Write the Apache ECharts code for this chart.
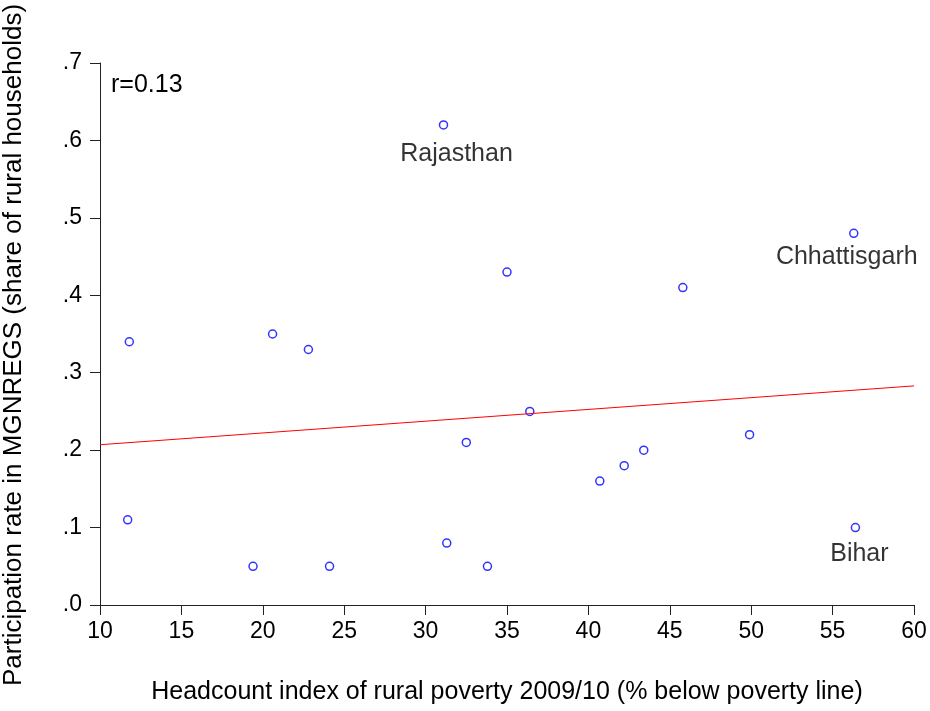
<!DOCTYPE html>
<html>
<head>
<meta charset="utf-8">
<script src="https://cdn.jsdelivr.net/npm/echarts@6/dist/echarts.min.js"></script>
<style>
  html, body { margin: 0; padding: 0; background: #fff; }
  #chart { width: 930px; height: 711px; }
</style>
</head>
<body>
<div id="chart"></div>
<script>
// headcount index (x) and MGNREGS participation (y), one entry per state
var poverty = [11.8, 11.7, 19.4, 20.6, 22.8, 24.1, 31.1, 31.3, 32.5, 33.8, 35.0, 36.4, 40.7, 42.2, 43.4, 45.8, 49.9, 56.3, 56.4];
var participation = [0.34, 0.11, 0.05, 0.35, 0.33, 0.05, 0.62, 0.08, 0.21, 0.05, 0.43, 0.25, 0.16, 0.18, 0.20, 0.41, 0.22, 0.48, 0.10];
var names = ['', '', '', '', '', '', 'Rajasthan', '', '', '', '', '', '', '', '', '', '', 'Chhattisgarh', 'Bihar'];
// fitted line end points
var fitX = [10, 60];
var fitY = [0.207, 0.283];

var labelOffset = {
  'Rajasthan': [13, 29],
  'Chhattisgarh': [-7, 24],
  'Bihar': [4, 27]
};

var font = 'Liberation Sans, Arial, sans-serif';

var points = poverty.map(function (x, i) {
  var item = { value: [x, participation[i]] };
  if (names[i]) {
    item.label = {
      show: true,
      formatter: names[i],
      position: 'inside',
      offset: labelOffset[names[i]],
      color: '#000',
      fontSize: 25,
      fontFamily: font
    };
  }
  return item;
});

var chart = echarts.init(document.getElementById('chart'));
chart.setOption({
  backgroundColor: '#fff',
  animation: false,
  grid: { left: 100, right: 16, top: 63, bottom: 106, outerBoundsMode: 'none', containLabel: false },
  xAxis: {
    type: 'value',
    min: 10, max: 60, interval: 5,
    name: 'Headcount index of rural poverty 2009/10 (% below poverty line)',
    nameLocation: 'middle',
    nameGap: 75,
    nameTextStyle: { color: '#000', fontSize: 25, fontFamily: font },
    axisLine: { show: true, lineStyle: { color: '#222', width: 1 } },
    axisTick: { show: true, length: 10, lineStyle: { color: '#222' } },
    axisLabel: { color: '#000', fontSize: 23, fontFamily: font, margin: 15 },
    splitLine: { show: false }
  },
  yAxis: {
    type: 'value',
    min: 0, max: 0.7, interval: 0.1,
    name: 'Participation rate in MGNREGS (share of rural households)',
    nameLocation: 'middle',
    nameGap: 73,
    nameTextStyle: { color: '#000', fontSize: 26, fontFamily: font, padding: [0, 22, 0, 0] },
    axisLine: { show: true, lineStyle: { color: '#222', width: 1 } },
    axisTick: { show: true, length: 10, lineStyle: { color: '#222' } },
    axisLabel: {
      color: '#000', fontSize: 23, fontFamily: font, margin: 18,
      formatter: function (v) { return v.toFixed(1).replace(/^0/, ''); }
    },
    splitLine: { show: false }
  },
  graphic: [{
    type: 'text',
    left: 111, top: 73,
    style: { text: 'r=0.13', fill: '#000', fontSize: 25, fontFamily: font }
  }],
  series: [{
    type: 'line',
    data: fitX.map(function (x, i) { return [x, fitY[i]]; }),
    showSymbol: false,
    lineStyle: { color: '#ff0000', width: 1 },
    silent: true
  }, {
    type: 'scatter',
    data: points,
    symbol: 'circle',
    symbolSize: 8,
    itemStyle: { color: '#fff', borderColor: '#0000ff', borderWidth: 1.5 }
  }]
});
</script>
</body>
</html>
